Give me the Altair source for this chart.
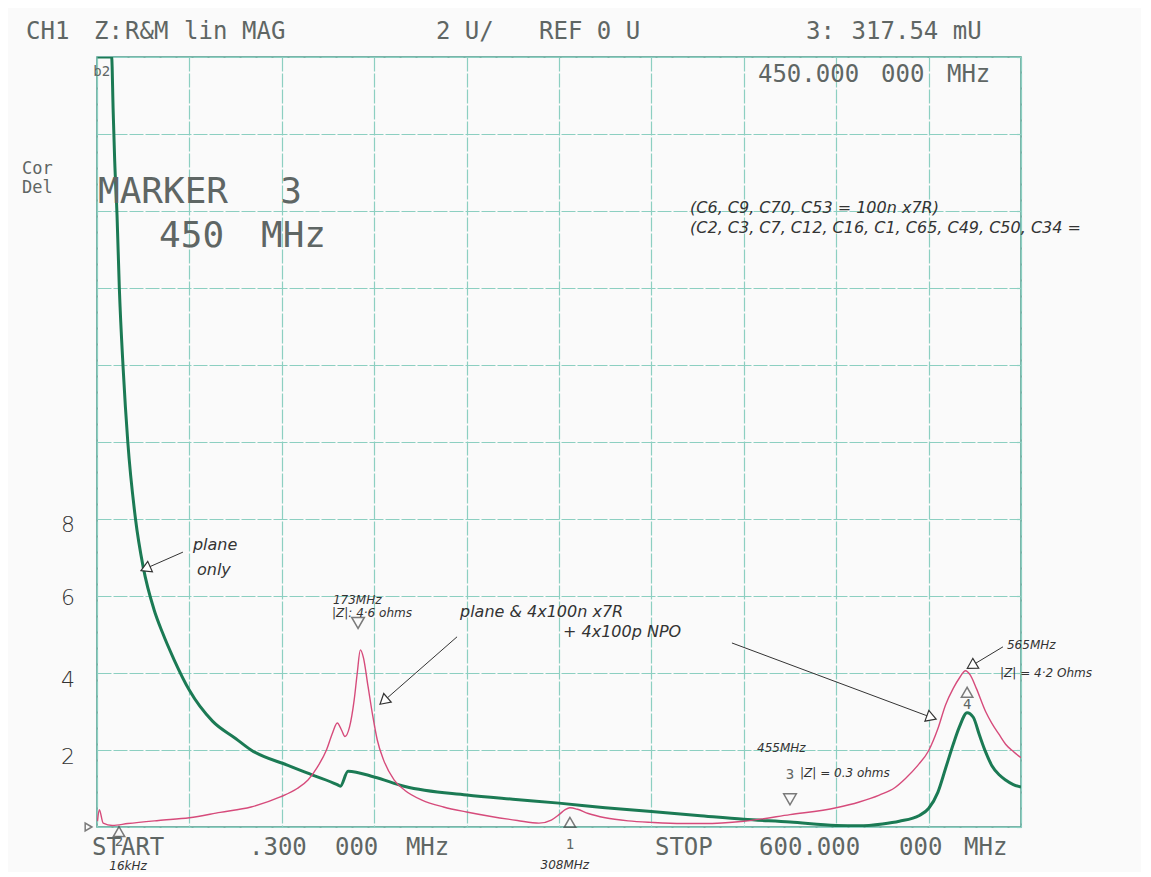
import altair as alt
import pandas as pd

# trace "plane only" (green) - MHz / U
plane_freq = [0.3, 9.5, 10.5, 11.5, 13, 14.5, 17, 20, 25, 30, 37, 42.5, 50, 60, 75, 90,
              100, 124, 140, 156, 158, 163, 180, 200, 240, 270, 300, 330, 360, 390, 420,
              450, 480, 495, 510, 521, 534, 540, 546, 551, 556, 560, 565, 569, 573, 577,
              581, 586, 590, 595, 600]
plane_z = [20, 20, 18.6, 17.3, 15.9, 14.0, 11.9, 10.0, 8.0, 6.75, 5.65, 5.05, 4.35, 3.55,
           2.75, 2.3, 2.0, 1.6, 1.35, 1.1, 1.06, 1.45, 1.3, 1.05, 0.83, 0.72, 0.62, 0.5,
           0.4, 0.3, 0.2, 0.13, 0.04, 0.03, 0.08, 0.15, 0.3, 0.48, 0.9, 1.52, 2.15, 2.6,
           2.97, 2.85, 2.39, 1.95, 1.6, 1.35, 1.22, 1.1, 1.04]

# trace "plane & 4x100n X7R + 4x100p NPO" (pink)
caps_freq = [0.3, 1.5, 4, 10, 20, 40, 60, 80, 100, 119, 130, 137, 143, 149, 153, 156, 159,
             161, 164, 167, 169, 171, 173, 176, 179, 182, 186, 193, 200, 211, 225, 240, 255,
             273, 287, 295, 300, 304, 307, 312, 319, 330, 345, 360, 380, 394, 420, 450, 480,
             495, 508, 518, 525, 533, 540, 546, 551, 556, 560, 564, 567, 571, 577, 581, 586,
             590, 595, 600]
caps_z = [0.15, 0.45, 0.1, 0.04, 0.09, 0.17, 0.24, 0.38, 0.52, 0.78, 1.0, 1.22, 1.55, 2.0,
          2.45, 2.7, 2.5, 2.35, 2.6, 3.3, 4.0, 4.6, 4.4, 3.65, 2.9, 2.26, 1.75, 1.22, 0.95,
          0.7, 0.52, 0.39, 0.28, 0.17, 0.1, 0.18, 0.32, 0.45, 0.5, 0.46, 0.35, 0.24, 0.16,
          0.12, 0.09, 0.09, 0.15, 0.32, 0.5, 0.65, 0.83, 1.02, 1.26, 1.6, 1.98, 2.55, 3.17,
          3.6, 3.87, 4.06, 3.95, 3.6, 3.0, 2.7, 2.39, 2.15, 1.96, 1.8]

# printed instrument text
screen_text = ["CH1", "Z:", "R&M", "lin", "MAG", "2 U/", "REF 0 U", "3:", "317.54 mU",
               "450.000", "000", "MHz",
               "START", ".300", "000", "MHz", "STOP", "600.000", "000", "MHz"]
screen_f = [-46.1, -1.9, 18.2, 56.5, 94.2, 220.1, 287.0, 460.4, 490.0,
            429.2, 509.1, 551.9,
            -3.2, 98.7, 154.5, 200.6, 362.3, 429.9, 520.8, 563.0]
screen_z = [20.65, 20.65, 20.65, 20.65, 20.65, 20.65, 20.65, 20.65, 20.65,
            19.53, 19.53, 19.53,
            -0.55, -0.55, -0.55, -0.55, -0.55, -0.55, -0.55, -0.55]

side_text = ["Cor", "Del"]
side_f = [-48.7, -48.7]
side_z = [17.1, 16.6]

marker_text = ["MARKER", "3", "450", "MHz"]
marker_f = [0.65, 119.0, 40.3, 106.5]
marker_z = [16.5, 16.5, 15.35, 15.35]

mk_label = ["1", "2", "3", "4", "b2"]
mk_label_f = [307.1, 14.3, 450.0, 565.0, 3.0]
mk_label_z = [-0.47, -0.4, 1.35, 3.17, 19.6]

# marker symbols
mk_down_f = [169.5, 450.0]
mk_down_z = [5.3, 0.72]
mk_up_f = [307.1, 14.3, 565.0]
mk_up_z = [0.12, -0.12, 3.5]

# handwritten notes
axis_note = ["8", "6", "4", "2"]
axis_note_f = [-18.8, -18.8, -18.8, -18.8]
axis_note_z = [7.85, 5.95, 3.83, 1.83]

note_text = ["plane", "only", "plane & 4x100n x7R", "+ 4x100p NPO",
             "(C6, C9, C70, C53 = 100n x7R)",
             "(C2, C3, C7, C12, C16, C1, C65, C49, C50, C34 ="]
note_f = [62.3, 64.9, 235.7, 302.6, 385.1, 385.1]
note_z = [7.32, 6.68, 5.58, 5.06, 16.08, 15.56]

small_text = ["173MHz", "|Z|: 4·6 ohms", "565MHz", "|Z| = 4·2 Ohms", "455MHz",
              "|Z| = 0.3 ohms", "308MHz", "16kHz"]
small_f = [153.2, 152.6, 590.9, 586.4, 428.6, 456.5, 288.0, 8.0]
small_z = [5.9, 5.56, 4.73, 4.0, 2.05, 1.40, -0.99, -1.02]

# hand-drawn arrows: start / end in chart units, head angle in degrees
arrow_id = ["only", "c173", "c565", "lab565"]
arrow_f0 = [55.8, 233.8, 412.3, 588.3]
arrow_z0 = [7.14, 4.94, 4.78, 4.68]
arrow_f1 = [32.5, 187.0, 540.9, 568.8]
arrow_z1 = [6.73, 3.30, 2.86, 4.21]
arrow_ang = [246, 229, 110, 239]

GRID = "#8ccfc1"
PRINT = "#5f6664"
INK = "#333333"
MONO = "DejaVu Sans Mono"
HAND = "DejaVu Sans"

xs = alt.Scale(domain=[0, 600], nice=False, zero=False)
ys = alt.Scale(domain=[0, 20], nice=False, zero=False)
ax_x = alt.Axis(values=list(range(0, 601, 60)), grid=True, labels=False, ticks=False,
                domain=False, title=None, gridColor=GRID, gridDash=[14, 2], gridWidth=1.2)
ax_y = alt.Axis(values=list(range(0, 21, 2)), grid=True, labels=False, ticks=False,
                domain=False, title=None, gridColor=GRID, gridDash=[14, 2], gridWidth=1.2)
X = alt.X("f:Q", scale=xs, axis=ax_x)
Y = alt.Y("z:Q", scale=ys, axis=ax_y)


def frame(f, z, t=None):
    d = {"f": f, "z": z}
    if t is not None:
        d["t"] = t
    return pd.DataFrame(d)


def words(df, size, font, color, align="left", **kw):
    return (
        alt.Chart(df)
        .mark_text(align=align, baseline="middle", fontSize=size, font=font, color=color, **kw)
        .encode(x=X, y=Y, text="t:N")
    )


plane = (
    alt.Chart(frame(plane_freq, plane_z))
    .mark_line(color="#1b7a54", strokeWidth=3, clip=True, interpolate="monotone")
    .encode(x=X, y=Y)
)
caps = (
    alt.Chart(frame(caps_freq, caps_z))
    .mark_line(color="#d64b7b", strokeWidth=1.4, clip=True, interpolate="monotone")
    .encode(x=X, y=Y)
)

arrows = pd.DataFrame({"id": arrow_id, "f": arrow_f0, "z": arrow_z0,
                       "f2": arrow_f1, "z2": arrow_z1, "ang": arrow_ang})
shafts = (
    alt.Chart(arrows)
    .mark_rule(color=INK, strokeWidth=1)
    .encode(x=X, y=Y, x2="f2:Q", y2="z2:Q")
)
heads = (
    alt.Chart(arrows)
    .mark_point(shape="triangle", filled=True, fill="white", stroke=INK, strokeWidth=1.2,
                size=130, opacity=1)
    .encode(x=alt.X("f2:Q", scale=xs, axis=ax_x), y=alt.Y("z2:Q", scale=ys, axis=ax_y),
            angle=alt.Angle("ang:Q", scale=None))
)

down_marks = (
    alt.Chart(frame(mk_down_f, mk_down_z))
    .mark_point(shape="triangle-down", filled=False, color="#444", strokeWidth=1.5, size=160)
    .encode(x=X, y=Y)
)
up_marks = (
    alt.Chart(frame(mk_up_f, mk_up_z))
    .mark_point(shape="triangle-up", filled=False, color="#444", strokeWidth=1.5, size=130)
    .encode(x=X, y=Y)
)
ref_mark = (
    alt.Chart(frame([-5.5], [0]))
    .mark_point(shape="triangle-right", filled=False, color="#444", strokeWidth=1.5, size=60)
    .encode(x=X, y=Y)
)

chart = (
    alt.layer(
        plane,
        caps,
        shafts,
        heads,
        down_marks,
        up_marks,
        ref_mark,
        words(frame(screen_f, screen_z, screen_text), 24, MONO, PRINT),
        words(frame(side_f, side_z, side_text), 17, MONO, PRINT),
        words(frame(marker_f, marker_z, marker_text), 36, MONO, PRINT),
        words(frame(mk_label_f, mk_label_z, mk_label), 14, MONO, PRINT, align="center"),
        words(frame(axis_note_f, axis_note_z, axis_note), 22, HAND, INK, align="center",
              fontWeight=300),
        words(frame(note_f, note_z, note_text), 16, HAND, INK, fontStyle="italic"),
        words(frame(small_f, small_z, small_text), 12, HAND, INK, fontStyle="italic"),
    )
    .properties(
        width=924,
        height=770,
        autosize=alt.AutoSizeParams(type="none"),
        padding={"left": 89, "top": 49, "right": 120, "bottom": 45},
        background="#fafafa",
    )
    .configure_view(stroke="#4f9d8d", strokeWidth=1.5)
)

chart.save("out.html", embed_options={"renderer": "svg", "actions": False})
